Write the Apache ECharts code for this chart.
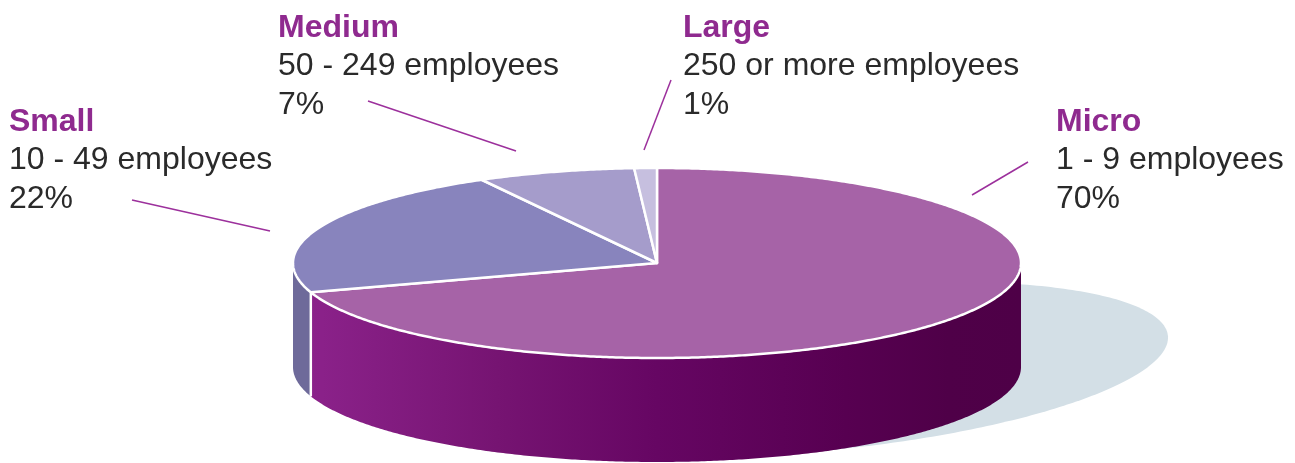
<!DOCTYPE html>
<html>
<head>
<meta charset="utf-8">
<style>
  html, body { margin: 0; padding: 0; background: #ffffff; }
  #chart { width: 1295px; height: 463px; }
</style>
<script src="https://cdn.jsdelivr.net/npm/echarts@6/dist/echarts.min.js"></script>
</head>
<body>
<div id="chart"></div>
<script>
// Enterprises by size class
const categories = ['Micro', 'Small', 'Medium', 'Large'];
const sizeBands = ['1 - 9 employees', '10 - 49 employees', '50 - 249 employees', '250 or more employees'];
const shares = [70, 22, 7, 1];
const shareLabels = ['70%', '22%', '7%', '1%'];

// Disc geometry (top face is an ellipse, walls drop by `depth`)
const PIE = { cx: 657, cy: 263, rx: 364, ry: 95, depth: 104 };

// Ground shadow: ellipse x = cx + p cos t, y = cy + q cos t + r sin t
const SHADOW = { dx: 170, dy: 106, p: 341, q: -31.3, r: 81.3, color: '#d3dfe6' };

const microWall = {
  type: 'linear', global: true,
  x: PIE.cx - PIE.rx, y: 0, x2: PIE.cx + PIE.rx, y2: 0,
  colorStops: [
    { offset: 0.00, color: '#8c238b' },
    { offset: 0.04, color: '#8a2189' },
    { offset: 0.28, color: '#761472' },
    { offset: 0.50, color: '#660663' },
    { offset: 0.76, color: '#570051' },
    { offset: 0.90, color: '#4f0048' },
    { offset: 1.00, color: '#4e0047' }
  ]
};
const topColors = ['#a663a7', '#8884bd', '#a59ccb', '#c6bfdf'];
const wallColors = [microWall, '#6e6a9a', '#8a83b3', '#aaa2c8'];
const titleColor = '#8f2a8f';
const leaderColor = '#9c309c';
const bodyColor = '#2a2a2a';

// Label blocks: left edge, first baseline, leader line ends
const labelLayout = [
  { x: 1056, y: 131, from: [1028, 162], to: [972, 195] },
  { x: 9,    y: 131, from: [132, 200],  to: [270, 231] },
  { x: 278,  y: 37,  from: [368, 101],  to: [516, 151] },
  { x: 683,  y: 37,  from: [671, 80],   to: [644, 150] }
];
const LINE_GAP = 38.5;
const FONT_FAMILY = '"Liberation Sans", Arial, sans-serif';

const total = shares.reduce((a, b) => a + b, 0);
const TAU = Math.PI * 2;

function rimPoint(a, dy) {
  return [PIE.cx + PIE.rx * Math.sin(a), PIE.cy - PIE.ry * Math.cos(a) + (dy || 0)];
}
function arc(a0, a1, dy) {
  const n = Math.max(2, Math.ceil((a1 - a0) / (Math.PI / 360)));
  const pts = [];
  for (let k = 0; k <= n; k++) pts.push(rimPoint(a0 + (a1 - a0) * k / n, dy));
  return pts;
}

function textEl(str, x, baseline, weight, color) {
  return {
    type: 'text',
    style: {
      text: str, x: x, y: baseline - 9,
      font: weight + ' 32px ' + FONT_FAMILY,
      fill: color, align: 'left', verticalAlign: 'middle'
    }
  };
}

function renderSlice(params, api) {
  const i = params.dataIndex;
  const value = api.value(0);
  let before = 0;
  for (let k = 0; k < i; k++) before += shares[k];
  const a0 = before / total * TAU;
  const a1 = (before + value) / total * TAU;
  const children = [];

  // front wall (only the half facing the viewer is visible)
  const s0 = Math.max(a0, Math.PI / 2);
  const s1 = Math.min(a1, Math.PI * 1.5);
  if (s1 > s0) {
    const pts = arc(s0, s1, 0).concat(arc(s0, s1, PIE.depth).reverse());
    children.push({
      type: 'polygon', shape: { points: pts },
      style: { fill: wallColors[i], stroke: null }
    });
  }
  if (a0 > Math.PI / 2 && a0 < Math.PI * 1.5) {
    const p = rimPoint(a0, 0);
    children.push({
      type: 'line', shape: { x1: p[0], y1: p[1], x2: p[0], y2: p[1] + PIE.depth },
      style: { stroke: '#ffffff', lineWidth: 2.5 }
    });
  }

  // top face
  children.push({
    type: 'polygon',
    shape: { points: [[PIE.cx, PIE.cy]].concat(arc(a0, a1, 0)) },
    style: { fill: topColors[i], stroke: '#ffffff', lineWidth: 2.5, lineJoin: 'round' }
  });

  // label block and leader
  const L = labelLayout[i];
  children.push(textEl(categories[i], L.x, L.y, 'bold', titleColor));
  children.push(textEl(sizeBands[i], L.x, L.y + LINE_GAP, 'normal', bodyColor));
  children.push(textEl(shareLabels[i], L.x, L.y + LINE_GAP * 2, 'normal', bodyColor));
  children.push({
    type: 'line',
    shape: { x1: L.from[0], y1: L.from[1], x2: L.to[0], y2: L.to[1] },
    style: { stroke: leaderColor, lineWidth: 1.5 }
  });

  return { type: 'group', children: children };
}

function renderShadow() {
  const cx = PIE.cx + SHADOW.dx, cy = PIE.cy + SHADOW.dy;
  const pts = [];
  for (let k = 0; k < 360; k++) {
    const t = k / 360 * TAU;
    pts.push([cx + SHADOW.p * Math.cos(t), cy + SHADOW.q * Math.cos(t) + SHADOW.r * Math.sin(t)]);
  }
  return { type: 'polygon', shape: { points: pts }, style: { fill: SHADOW.color } };
}

const chart = echarts.init(document.getElementById('chart'), null, { renderer: 'canvas' });
chart.setOption({
  animation: false,
  backgroundColor: '#ffffff',
  series: [
    {
      type: 'custom', name: 'shadow', coordinateSystem: 'none', z: 1,
      silent: true, data: [0], renderItem: renderShadow
    },
    {
      type: 'custom', name: 'Enterprises', coordinateSystem: 'none', z: 2,
      data: shares.map((v, i) => ({ name: categories[i], value: [v] })),
      renderItem: renderSlice
    }
  ]
});
</script>
</body>
</html>
